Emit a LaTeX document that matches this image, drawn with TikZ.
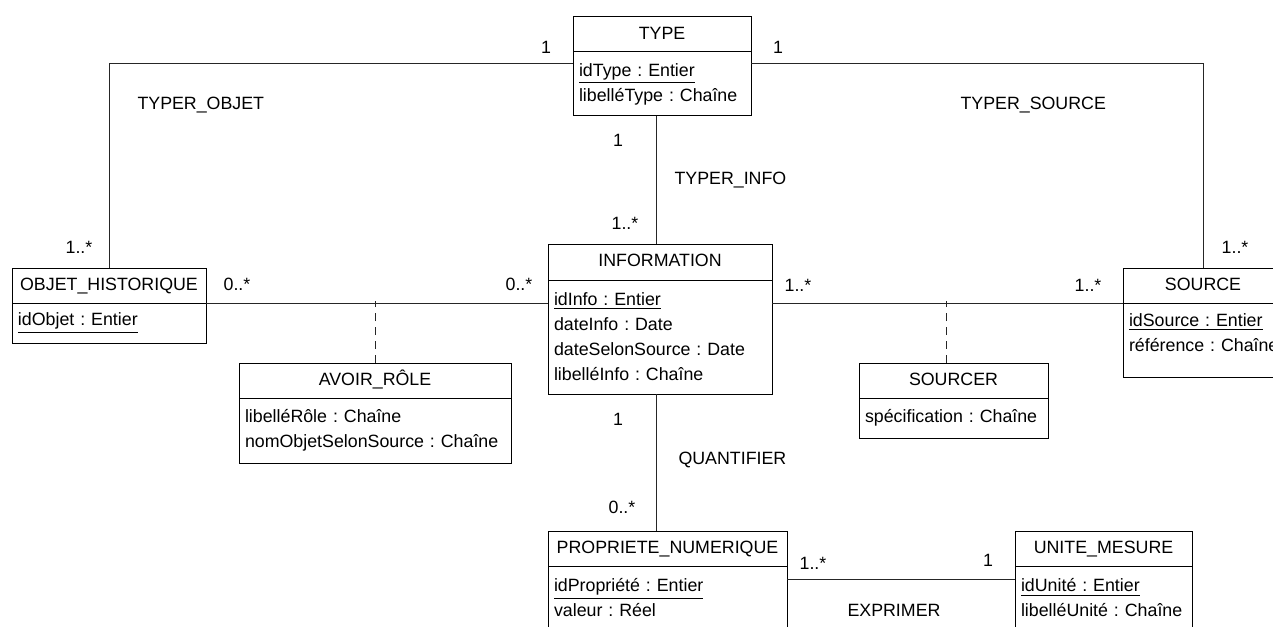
\documentclass[tikz,border=0pt]{standalone}
\usepackage{fontspec}
\setmainfont{Liberation Sans}
\frenchspacing
\usetikzlibrary{positioning}
\tikzset{
  entity/.style={
    % The shape:
    rectangle,
    % The size:
    minimum width=#1,
    minimum height=17.5pt,
    inner sep=0pt,outer sep=0pt,
    % The border:
    line width=0.5pt,
    draw=black,
    % The filling:
    fill=white,
    anchor=north,
    text height=1.5ex,text depth=.6ex},
  attributes/.style={
    % The shape:
    rectangle,
    % The size:
    text width=#1,
    inner xsep=3pt,inner ysep=0pt,outer sep=0pt,
    % The rest
    line width=0.5pt,draw=black,
    fill=white,align=left},
  multiplicity/.style={
    inner sep=0pt},
  association/.style={
    inner sep=0pt,anchor=west}
}

\begin{document}
\begin{tikzpicture}[x=0.5pt,y=-0.5pt,line width=0.5pt,
                    font=\fontsize{8.9pt}{12.5pt}\selectfont,
                    link/.style={draw=black!85},
                    role link/.style={draw=black!85,dash pattern=on 4pt off 3pt}]
  \useasboundingbox (0,0) rectangle (1273,626);
  \clip (0,0) rectangle (1273,626);

  % entities
  \node (type)    [entity=89pt]    at (662,17)    {TYPE};
  \node (type-a)  [attributes=83pt,minimum height=32pt,below=0pt of type]
        {\underline{idType : Entier}\\libelléType : Chaîne};

  \node (objet)   [entity=97pt]    at (109,268)   {OBJET\_HISTORIQUE};
  \node (objet-a) [attributes=91pt,minimum height=20pt,below=0pt of objet]
        {\underline{idObjet : Entier}};

  \node (info)    [entity=112pt,minimum height=18pt] at (660,244) {INFORMATION};
  \node (info-a)  [attributes=106pt,minimum height=57pt,below=0pt of info]
        {\underline{idInfo : Entier}\\dateInfo : Date\\dateSelonSource : Date\\libelléInfo : Chaîne};

  \node (source)  [entity=80pt]    at (1203,268)  {SOURCE};
  \node (source-a)[attributes=74pt,minimum height=37pt,text depth=20pt,below=0pt of source]
        {\mbox{\underline{idSource : Entier}}\\\mbox{référence : Chaîne}};

  \node (avoir)   [entity=136pt]   at (375,363)   {AVOIR\_RÔLE};
  \node (avoir-a) [attributes=130pt,minimum height=32.5pt,below=0pt of avoir]
        {libelléRôle : Chaîne\\nomObjetSelonSource : Chaîne};

  \node (sourcer) [entity=94.5pt]  at (953.5,363) {SOURCER};
  \node (sourcer-a)[attributes=88.5pt,minimum height=20pt,below=0pt of sourcer]
        {spécification : Chaîne};

  \node (prop)    [entity=119.5pt] at (667.5,531) {PROPRIETE\_NUMERIQUE};
  \node (prop-a)  [attributes=113.5pt,minimum height=32pt,below=0pt of prop]
        {\underline{idPropriété : Entier}\\valeur : Réel};

  \node (unite)   [entity=88.5pt]  at (1103.5,531) {UNITE\_MESURE};
  \node (unite-a) [attributes=82.5pt,minimum height=32pt,below=0pt of unite]
        {\underline{idUnité : Entier}\\libelléUnité : Chaîne};

  % links
  \draw [link] ([yshift=10pt]type-a.west) -| (objet.north);
  \draw [link] ([yshift=10pt]type-a.east) -| (source.north);
  \draw [link] ([xshift=-2pt]info.north) -- ([xshift=-2pt]info.north |- type-a.south);
  \draw [link] (objet-a.north east) -- (objet-a.north east -| info-a.west);
  \draw [link] (info-a.east |- source-a.north) -- (source-a.north west);
  \draw [link] ([xshift=-2pt]info-a.south) -- ([xshift=-2pt]info-a.south |- prop.north);
  \draw [link] ([yshift=9.5pt]prop-a.east) -- ([yshift=9.5pt]prop-a.east -| unite-a.west);
  \draw [role link] (avoir.north) -- ([yshift=1pt]avoir.north |- objet-a.north);
  \draw [role link] ([xshift=-3.5pt]sourcer.north) -- ([xshift=-3.5pt,yshift=1pt]sourcer.north |- source-a.north);

  % multiplicities
  \node (m-type-objet)   [multiplicity] at (546,47)   {1};
  \node (m-type-source)  [multiplicity] at (778,47)   {1};
  \node (m-objet-type)   [multiplicity] at (79,247)   {1..*};
  \node (m-source-type)  [multiplicity] at (1235,247) {1..*};
  \node (m-objet-info)   [multiplicity] at (237,284)  {0..*};
  \node (m-info-objet)   [multiplicity] at (519,284)  {0..*};
  \node (m-info-source)  [multiplicity] at (798,285)  {1..*};
  \node (m-source-info)  [multiplicity] at (1088,285) {1..*};
  \node (m-type-info)    [multiplicity] at (618,140)  {1};
  \node (m-info-type)    [multiplicity] at (625,223)  {1..*};
  \node (m-info-prop)    [multiplicity] at (618,419)  {1};
  \node (m-prop-info)    [multiplicity] at (622,507)  {0..*};
  \node (m-prop-unite)   [multiplicity] at (813,563)  {1..*};
  \node (m-unite-prop)   [multiplicity] at (988,560)  {1};

  % association names
  \node (typer-objet)  [association] at (137,105) {TYPER\_OBJET};
  \node (typer-source) [association] at (960,105) {TYPER\_SOURCE};
  \node (typer-info)   [association] at (674,180) {TYPER\_INFO};
  \node (quantifier)   [association] at (678,460) {QUANTIFIER};
  \node (exprimer)     [multiplicity] at (894,610) {EXPRIMER};
\end{tikzpicture}
\end{document}
